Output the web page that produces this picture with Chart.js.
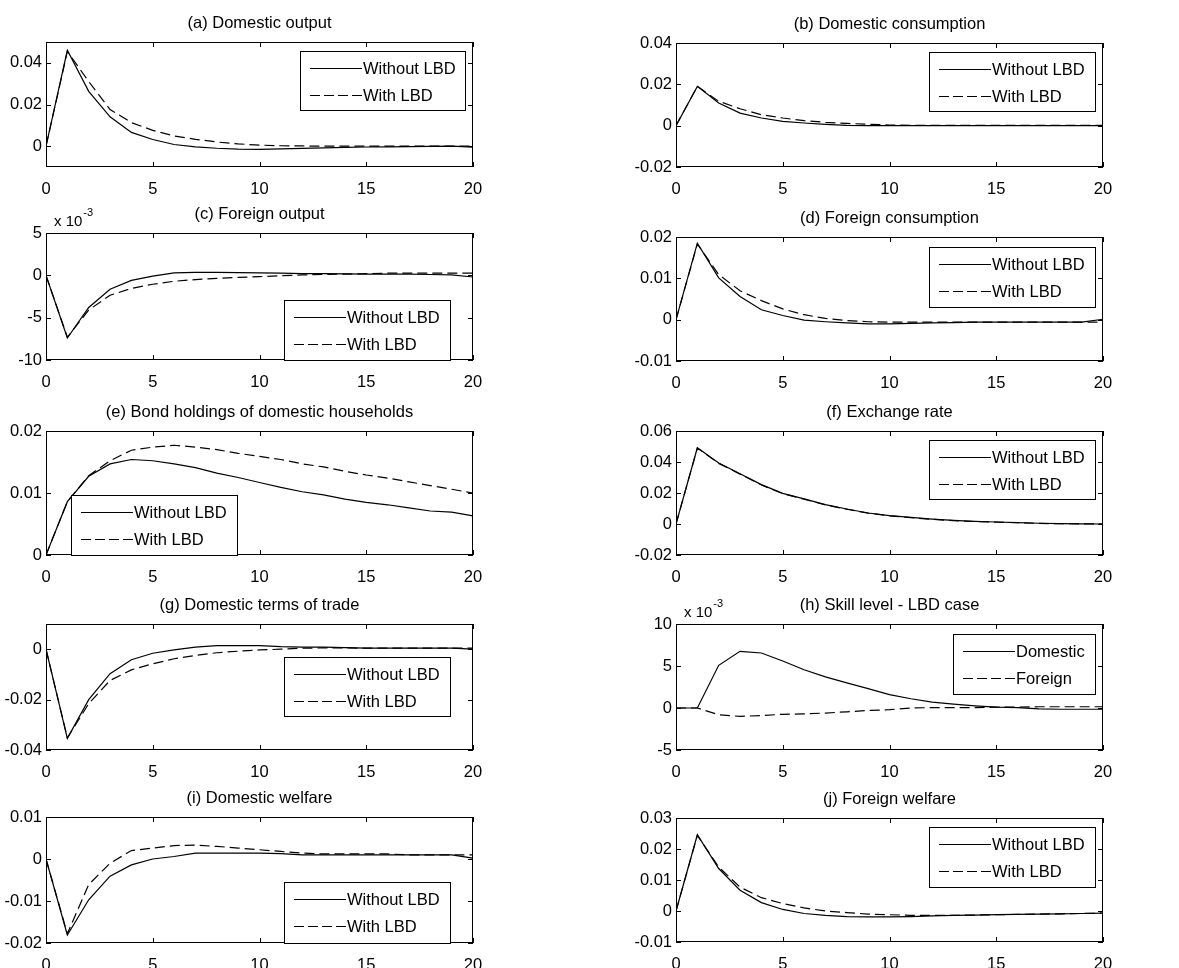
<!DOCTYPE html>
<html>
<head>
<meta charset="utf-8">
<script src="https://cdn.jsdelivr.net/npm/chart.js@4"></script>
<style>
  body { margin: 0; background: #fff; }
  #page { position: relative; width: 1179px; height: 968px; background: #fff; overflow: hidden; }
  #page canvas { position: absolute; }
</style>
</head>
<body>
<div id="page"></div>
<script>
// horizon (quarters after the shock)
const periods = [0, 1, 2, 3, 4, 5, 6, 7, 8, 9, 10, 11, 12, 13, 14, 15, 16, 17, 18, 19, 20];
const xTicks = [0, 5, 10, 15, 20];

// (a) domestic output
const domOutputNo  = [0, 0.046, 0.0263, 0.0141, 0.0066, 0.0032, 0.0008, -0.0003, -0.001, -0.0014, -0.0015, -0.0013, -0.0011, -0.0008, -0.0006, -0.0004, -0.0003, -0.0002, -0.0001, 0, -0.0005];
const domOutputLbd = [0, 0.0455, 0.031, 0.0176, 0.0113, 0.0076, 0.0049, 0.0033, 0.002, 0.0011, 0.0005, 0.0002, 0.0001, 0, 0, 0, 0, 0, 0, 0, 0];
// (b) domestic consumption
const domConsNo  = [0, 0.019, 0.011, 0.0061, 0.0037, 0.0021, 0.0013, 0.0006, 0.0001, 0, 0, 0, 0, 0, 0, 0, 0, 0, 0, 0, 0];
const domConsLbd = [0, 0.019, 0.0118, 0.0082, 0.0053, 0.0037, 0.0024, 0.0016, 0.0011, 0.0007, 0.0003, 0.0002, 0.0001, 0.0001, 0.0001, 0.0001, 0.0001, 0.0001, 0.0001, 0.0001, 0.0001];
// (c) foreign output, x 10^-3
const forOutputNo  = [0, -7.4, -3.8, -1.65, -0.6, -0.1, 0.3, 0.35, 0.35, 0.33, 0.3, 0.25, 0.2, 0.2, 0.18, 0.15, 0.15, 0.15, 0.1, 0.05, -0.2];
const forOutputLbd = [0, -7.3, -4.1, -2.35, -1.55, -1.05, -0.7, -0.5, -0.35, -0.25, -0.15, -0.05, 0.05, 0.1, 0.15, 0.2, 0.25, 0.25, 0.25, 0.25, 0.25];
// (d) foreign consumption
const forConsNo  = [0, 0.0185, 0.0101, 0.0056, 0.0024, 0.001, -0.0001, -0.0005, -0.0008, -0.001, -0.001, -0.0009, -0.0008, -0.0007, -0.0006, -0.0006, -0.0006, -0.0006, -0.0006, -0.0006, 0.0001];
const forConsLbd = [0, 0.0183, 0.0109, 0.007, 0.0046, 0.0026, 0.0012, 0.0003, -0.0002, -0.0005, -0.0006, -0.0006, -0.0006, -0.0006, -0.0006, -0.0006, -0.0006, -0.0006, -0.0006, -0.0006, -0.0006];
// (e) bond holdings of domestic households
const bondsNo  = [0, 0.0086, 0.0127, 0.0147, 0.0154, 0.0152, 0.0147, 0.0141, 0.0132, 0.0125, 0.0117, 0.0109, 0.0102, 0.0097, 0.009, 0.0085, 0.0081, 0.0076, 0.0071, 0.0069, 0.0063];
const bondsLbd = [0, 0.0086, 0.0128, 0.0152, 0.0169, 0.0174, 0.0177, 0.0174, 0.017, 0.0164, 0.0159, 0.0154, 0.0147, 0.0142, 0.0135, 0.0129, 0.0124, 0.0118, 0.0112, 0.0106, 0.01];
// (f) exchange rate
const exchNo  = [0, 0.0492, 0.0393, 0.0324, 0.0254, 0.0198, 0.0162, 0.0125, 0.0097, 0.0071, 0.0054, 0.0043, 0.0032, 0.0024, 0.0017, 0.0013, 0.0009, 0.0005, 0.0002, 0.0001, 0];
const exchLbd = [0, 0.049, 0.0391, 0.0322, 0.0252, 0.0196, 0.016, 0.0123, 0.0095, 0.007, 0.0053, 0.0041, 0.003, 0.0022, 0.0016, 0.0012, 0.0008, 0.0004, 0.0002, 0.0001, 0];
// (g) domestic terms of trade
const totNo  = [0, -0.0354, -0.02, -0.0097, -0.0042, -0.0016, -0.0003, 0.0008, 0.0014, 0.0014, 0.0014, 0.001, 0.0008, 0.0008, 0.0006, 0.0004, 0.0004, 0.0004, 0.0004, 0.0004, 0];
const totLbd = [0, -0.0352, -0.0216, -0.0124, -0.0082, -0.0058, -0.0038, -0.0025, -0.0014, -0.0008, -0.0003, 0, 0.0004, 0.0005, 0.0005, 0.0004, 0.0004, 0.0004, 0.0004, 0.0004, 0.0004];
// (h) skill level, LBD case, x 10^-3
const skillDom = [0, 0, 5.08, 6.75, 6.55, 5.6, 4.56, 3.7, 3.0, 2.3, 1.6, 1.1, 0.7, 0.45, 0.25, 0.1, 0.05, -0.1, -0.15, -0.15, -0.15];
const skillFor = [0, 0, -0.8, -1.0, -0.9, -0.75, -0.7, -0.6, -0.45, -0.3, -0.2, 0, 0.05, 0.05, 0.05, 0.1, 0.1, 0.15, 0.15, 0.15, 0.15];
// (i) domestic welfare
const domWelfNo  = [0, -0.0181, -0.0097, -0.0041, -0.0014, 0, 0.0006, 0.0014, 0.0014, 0.0014, 0.0014, 0.0013, 0.001, 0.001, 0.001, 0.001, 0.001, 0.001, 0.001, 0.001, 0.0002];
const domWelfLbd = [0, -0.0178, -0.0061, -0.001, 0.002, 0.0026, 0.0032, 0.0033, 0.003, 0.0026, 0.0022, 0.0018, 0.0014, 0.0012, 0.0012, 0.0012, 0.0012, 0.001, 0.001, 0.001, 0.001];
// (j) foreign welfare
const forWelfNo  = [0, 0.0246, 0.0137, 0.0067, 0.0027, 0.0005, -0.0008, -0.0014, -0.0018, -0.0019, -0.0019, -0.0018, -0.0016, -0.0014, -0.0013, -0.0012, -0.0011, -0.001, -0.0009, -0.0008, -0.0007];
const forWelfLbd = [0, 0.0244, 0.0142, 0.0077, 0.0043, 0.0024, 0.001, 0, -0.0005, -0.001, -0.0012, -0.0014, -0.0014, -0.0014, -0.0013, -0.0012, -0.0011, -0.001, -0.0009, -0.0008, -0.0007];

// y tick labels per panel
const yTicksA = [0, 0.02, 0.04];
const yTicksB = [-0.02, 0, 0.02, 0.04];
const yTicksC = [-10, -5, 0, 5];
const yTicksD = [-0.01, 0, 0.01, 0.02];
const yTicksE = [0, 0.01, 0.02];
const yTicksF = [-0.02, 0, 0.02, 0.04, 0.06];
const yTicksG = [-0.04, -0.02, 0];
const yTicksH = [-5, 0, 5, 10];
const yTicksI = [-0.02, -0.01, 0, 0.01];
const yTicksJ = [-0.01, 0, 0.01, 0.02, 0.03];

const lbdNames = ['Without LBD', 'With LBD'];
const skillNames = ['Domestic', 'Foreign'];

const FAMILY = '"Liberation Sans", Arial, sans-serif';
const FONT = '16.5px ' + FAMILY;
const PAD_L = 50, PAD_T = 40, PAD_R = 30, PAD_B = 32;

// plot box on the page: l, t, r, b ; legend box offset from plot top-left
const panels = [
  { title: '(a) Domestic output', s: [domOutputNo, domOutputLbd], names: lbdNames, ymin: -0.01, ymax: 0.05, ticks: yTicksA,
    box: [46, 42, 473, 167], leg: [254, 9, 165, 59] },
  { title: '(b) Domestic consumption', s: [domConsNo, domConsLbd], names: lbdNames, ymin: -0.02, ymax: 0.04, ticks: yTicksB,
    box: [676, 43, 1103, 167], leg: [253, 9, 166, 59] },
  { title: '(c) Foreign output', s: [forOutputNo, forOutputLbd], names: lbdNames, ymin: -10, ymax: 5, ticks: yTicksC, exp: true,
    box: [46, 233, 473, 360], leg: [238, 67, 166, 60] },
  { title: '(d) Foreign consumption', s: [forConsNo, forConsLbd], names: lbdNames, ymin: -0.01, ymax: 0.02, ticks: yTicksD,
    box: [676, 237, 1103, 361], leg: [253, 10, 166, 60] },
  { title: '(e) Bond holdings of domestic households', s: [bondsNo, bondsLbd], names: lbdNames, ymin: 0, ymax: 0.02, ticks: yTicksE,
    box: [46, 431, 473, 555], leg: [25, 64, 166, 60] },
  { title: '(f) Exchange rate', s: [exchNo, exchLbd], names: lbdNames, ymin: -0.02, ymax: 0.06, ticks: yTicksF,
    box: [676, 431, 1103, 555], leg: [253, 9, 166, 59] },
  { title: '(g) Domestic terms of trade', s: [totNo, totLbd], names: lbdNames, ymin: -0.04, ymax: 0.01, ticks: yTicksG,
    box: [46, 624, 473, 750], leg: [238, 33, 166, 59] },
  { title: '(h) Skill level - LBD case', s: [skillDom, skillFor], names: skillNames, ymin: -5, ymax: 10, ticks: yTicksH, exp: true,
    box: [676, 624, 1103, 750], leg: [277, 10, 142, 60] },
  { title: '(i) Domestic welfare', s: [domWelfNo, domWelfLbd], names: lbdNames, ymin: -0.02, ymax: 0.01, ticks: yTicksI,
    box: [46, 817, 473, 943], leg: [238, 65, 166, 61] },
  { title: '(j) Foreign welfare', s: [forWelfNo, forWelfLbd], names: lbdNames, ymin: -0.01, ymax: 0.03, ticks: yTicksJ,
    box: [676, 818, 1103, 942], leg: [253, 9, 166, 60] }
];

const DASH = [10, 5];

// matlab style frame, inward ticks, title, exponent and legend box
const matlabLook = {
  id: 'matlabLook',
  afterDraw(chart, args, o) {
    const { ctx, chartArea: a } = chart;
    const x = chart.scales.x, y = chart.scales.y;
    ctx.save();
    ctx.strokeStyle = '#000';
    ctx.lineWidth = 1;
    ctx.strokeRect(a.left + 0.5, a.top + 0.5, a.right - a.left - 1, a.bottom - a.top - 1);
    ctx.beginPath();
    x.ticks.forEach(t => {
      const px = Math.round(x.getPixelForValue(t.value)) + 0.5;
      ctx.moveTo(px, a.bottom); ctx.lineTo(px, a.bottom - 5);
      ctx.moveTo(px, a.top); ctx.lineTo(px, a.top + 5);
    });
    y.ticks.forEach(t => {
      const py = Math.round(y.getPixelForValue(t.value)) + 0.5;
      ctx.moveTo(a.left, py); ctx.lineTo(a.left + 5, py);
      ctx.moveTo(a.right, py); ctx.lineTo(a.right - 5, py);
    });
    ctx.stroke();

    ctx.fillStyle = '#000';
    ctx.font = FONT;
    ctx.textAlign = 'center';
    ctx.textBaseline = 'alphabetic';
    ctx.fillText(o.title, (a.left + a.right) / 2, a.top - 14);

    if (o.exp) {
      ctx.textAlign = 'left';
      ctx.font = '15px ' + FAMILY;
      ctx.fillText('x 10', a.left + 8, a.top - 7);
      const w = ctx.measureText('x 10').width;
      ctx.font = '11px ' + FAMILY;
      ctx.fillText('-3', a.left + 9 + w, a.top - 17);
    }

    // legend
    const [dx, dy, w, h] = o.leg;
    const bx = a.left + dx, by = a.top + dy;
    ctx.fillStyle = '#fff';
    ctx.fillRect(bx, by, w, h);
    ctx.strokeRect(bx + 0.5, by + 0.5, w, h);
    ctx.fillStyle = '#000';
    ctx.font = FONT;
    ctx.textAlign = 'left';
    ctx.textBaseline = 'middle';
    o.names.forEach((name, i) => {
      const ry = Math.round(by + 17 + i * 27) + 0.5;
      ctx.beginPath();
      ctx.setLineDash(i ? [10, 4] : []);
      ctx.moveTo(bx + 10, ry); ctx.lineTo(bx + 62, ry);
      ctx.stroke();
      ctx.setLineDash([]);
      ctx.fillText(name, bx + 63, ry + 1);
    });
    ctx.restore();
  }
};

const fmt = v => String(+Number(v).toFixed(4));

const page = document.getElementById('page');
panels.forEach(p => {
  const [l, t, r, b] = p.box;
  const cv = document.createElement('canvas');
  cv.width = r - l + PAD_L + PAD_R;
  cv.height = b - t + PAD_T + PAD_B;
  cv.style.left = (l - PAD_L) + 'px';
  cv.style.top = (t - PAD_T) + 'px';
  page.appendChild(cv);

  new Chart(cv, {
    type: 'line',
    data: {
      labels: periods,
      datasets: p.s.map((vals, i) => ({
        label: p.names[i],
        data: periods.map((q, k) => ({ x: q, y: vals[k] })),
        borderColor: '#000',
        borderWidth: 1.2,
        borderDash: i ? DASH : [],
        pointRadius: 0,
        tension: 0,
        fill: false
      }))
    },
    options: {
      responsive: false,
      animation: false,
      devicePixelRatio: 1,
      layout: { padding: { left: 0, top: PAD_T, right: PAD_R, bottom: 0 } },
      plugins: {
        legend: { display: false },
        title: { display: false },
        tooltip: { enabled: false },
        matlabLook: { title: p.title, names: p.names, leg: p.leg, exp: !!p.exp }
      },
      scales: {
        x: {
          type: 'linear', min: 0, max: 20,
          grid: { display: false, drawTicks: false },
          border: { display: false },
          afterBuildTicks: s => { s.ticks = xTicks.map(v => ({ value: v })); },
          afterFit: s => { s.height = PAD_B; },
          ticks: { color: '#000', font: { size: 16.5, family: FAMILY }, padding: 13, maxRotation: 0, callback: fmt }
        },
        y: {
          min: p.ymin, max: p.ymax,
          grid: { display: false, drawTicks: false },
          border: { display: false },
          afterBuildTicks: s => { s.ticks = p.ticks.map(v => ({ value: v })); },
          afterFit: s => { s.width = PAD_L; },
          ticks: { color: '#000', font: { size: 16.5, family: FAMILY }, padding: 4, callback: fmt }
        }
      }
    },
    plugins: [matlabLook]
  });
});
</script>
</body>
</html>
